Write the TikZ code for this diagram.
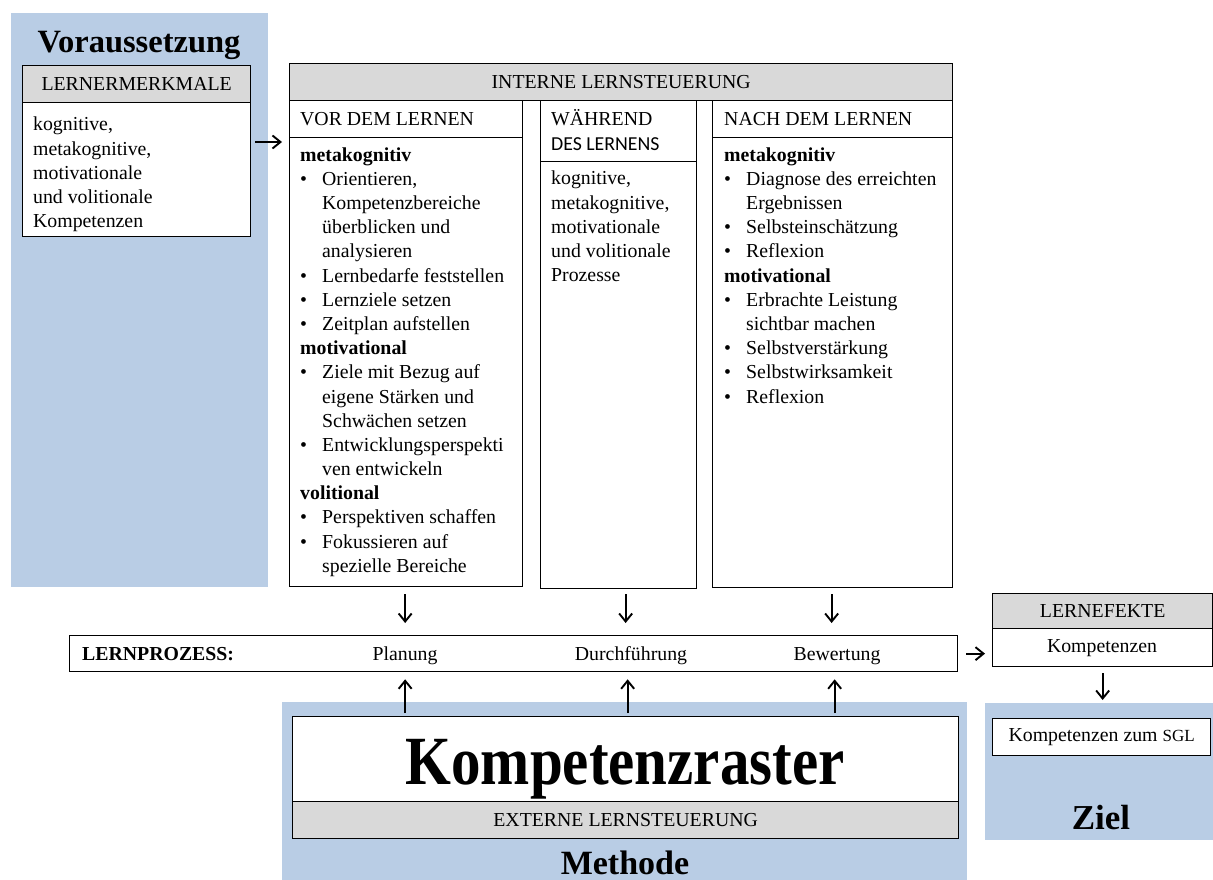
\documentclass[tikz,border=0pt]{standalone}
\usepackage{fontspec}
\usepackage{graphicx}
\setmainfont{Liberation Serif}
\newfontfamily\calibfont{Carlito}
\usetikzlibrary{arrows.meta,calc}
\definecolor{bgblue}{RGB}{185,205,229}
\definecolor{hdrgray}{RGB}{217,217,217}
\newcommand{\bul}{\makebox[22pt][l]{\textbullet}}
\newcommand{\ind}{\hspace*{22pt}}
\newcommand{\txt}[2]{\parbox[t]{#1}{\raggedright #2}}
\begin{document}
\begin{tikzpicture}[x=1pt,y=-1pt,
  box/.style={draw=black, line width=1.3pt, fill=white, inner sep=0pt, anchor=north west,
              font=\fontsize{19.8}{24.2}\selectfont},
  hdr/.style={box, fill=hdrgray},
  bg/.style={fill=bgblue, draw=none, inner sep=0pt, anchor=north west},
  body/.style={inner sep=0pt, anchor=base west, font=\fontsize{19.8}{24.2}\selectfont},
  lbl/.style={inner sep=0pt, font=\fontsize{19.8}{24.2}\selectfont},
  arr/.style={-{Straight Barb[length=8pt,width=13pt,line width=1.9pt]}, line width=1.9pt},
]
\useasboundingbox (0,0) rectangle (1213,880);

% blue backgrounds
\node[bg, minimum width=257pt, minimum height=574pt] (vbg) at (11,13) {};
\node[bg, minimum width=685pt, minimum height=178pt] (mbg) at (282,702) {};
\node[bg, minimum width=228pt, minimum height=137pt] (zbg) at (985,703) {};

% Voraussetzung
\node[lbl, anchor=base, font=\fontsize{32.5}{36}\selectfont\bfseries] (vtitle) at (139,53) {Voraussetzung};
\node[box, minimum width=228pt, minimum height=134pt] (lmb) at (22,102) {};
\node[hdr, minimum width=228pt, minimum height=37pt] (lmh) at (22,65) {LERNERMERKMALE};
\node[body] (lmt) at (33,131) {\txt{210pt}{kognitive,\\ metakognitive,\\ motivationale\\ und volitionale\\ Kompetenzen}};

% Interne Lernsteuerung
\node[hdr, minimum width=663pt, minimum height=37pt] (ih) at (289,63) {INTERNE LERNSTEUERUNG};

\node[box, minimum width=233pt, minimum height=486pt] (c1) at (289,100) {};
\node[box, minimum width=233pt, minimum height=37pt] (c1h) at (289,100) {};
\node[body] (c1ht) at (300,126) {VOR DEM LERNEN};
\node[body] (c1t) at (300,161) {\txt{222pt}{\textbf{metakognitiv}\\
\bul Orientieren,\\
\ind Kompetenzbereiche\\
\ind überblicken und\\
\ind analysieren\\
\bul Lernbedarfe feststellen\\
\bul Lernziele setzen\\
\bul Zeitplan aufstellen\\
\textbf{motivational}\\
\bul Ziele mit Bezug auf\\
\ind eigene Stärken und\\
\ind Schwächen setzen\\
\bul Entwicklungsperspekti\\
\ind ven entwickeln\\
\textbf{volitional}\\
\bul Perspektiven schaffen\\
\bul Fokussieren auf\\
\ind spezielle Bereiche}};

\node[box, minimum width=156pt, minimum height=488pt] (c2) at (540,100) {};
\node[box, minimum width=156pt, minimum height=61pt] (c2h) at (540,100) {};
\node[body] (c2ht) at (551,126) {\txt{140pt}{WÄHREND\\ {\calibfont DES LERNENS}}};
\node[body] (c2t) at (551,185) {\txt{140pt}{kognitive,\\ metakognitive,\\ motivationale\\ und volitionale\\ Prozesse}};

\node[box, minimum width=240pt, minimum height=487pt] (c3) at (712,100) {};
\node[box, minimum width=240pt, minimum height=37pt] (c3h) at (712,100) {};
\node[body] (c3ht) at (724,126) {NACH DEM LERNEN};
\node[body] (c3t) at (724,161) {\txt{226pt}{\textbf{metakognitiv}\\
\bul Diagnose des erreichten\\
\ind Ergebnissen\\
\bul Selbsteinschätzung\\
\bul Reflexion\\
\textbf{motivational}\\
\bul Erbrachte Leistung\\
\ind sichtbar machen\\
\bul Selbstverstärkung\\
\bul Selbstwirksamkeit\\
\bul Reflexion}};

% Lernprozess
\node[box, minimum width=888pt, minimum height=36pt] (proz) at (69,635) {};
\node[lbl, anchor=base west, font=\fontsize{19.8}{24.2}\selectfont\bfseries] (lp) at (82,660) {LERNPROZESS:};
\node[lbl, anchor=base] (plan) at (405,660) {Planung};
\node[lbl, anchor=base] (durch) at (631,660) {Durchführung};
\node[lbl, anchor=base] (bew) at (837,660) {Bewertung};

% Lerneffekte
\node[box, minimum width=220pt, minimum height=73pt] (leb) at (992,593) {};
\node[hdr, minimum width=220pt, minimum height=35pt] (leh) at (992,593) {LERNEFEKTE};
\node[lbl] (let) at (1102,648) {Kompetenzen};

% Ziel
\node[box, minimum width=218pt, minimum height=37pt] (sgl) at (992,718) {Kompetenzen zum {\fontsize{17}{20}\selectfont SGL}};
\node[lbl, anchor=base, font=\fontsize{35}{38}\selectfont\bfseries] (ziel) at (1101,829) {Ziel};

% Methode
\node[box, minimum width=666pt, minimum height=85pt] (kr) at (292,716) {};
\node[hdr, minimum width=666pt, minimum height=37pt] (ext) at (292,801) {EXTERNE LERNSTEUERUNG};
\node[lbl, anchor=base] (krt) at (625,784) {\scalebox{1}[1.17]{\fontsize{59}{60}\selectfont\bfseries Kompetenzraster}};
\node[lbl, anchor=base, font=\fontsize{34}{38}\selectfont\bfseries] (meth) at (625,874) {Methode};

% arrows
\draw[arr] ($(lmb.north east)+(4,40)$) -- ($(c1.north west)+(-7,42)$);
\draw[arr] ($(c1.south)+(-1,7)$) -- ($(proz.north -| c1.south)+(-1,-12)$);
\draw[arr] ($(c2.south)+(7,5)$) -- ($(proz.north -| c2.south)+(7,-12)$);
\draw[arr] ($(c3.south)+(-1,6)$) -- ($(proz.north -| c3.south)+(-1,-12)$);
\draw[arr] ($(kr.north -| c1.south)+(-1,-3)$) -- ($(proz.south -| c1.south)+(-1,7)$);
\draw[arr] ($(kr.north -| c2.south)+(9,-3)$) -- ($(proz.south -| c2.south)+(9,7)$);
\draw[arr] ($(kr.north -| c3.south)+(2,-3)$) -- ($(proz.south -| c3.south)+(2,7)$);
\draw[arr] ($(proz.east)+(8,0)$) -- ($(leb.west |- proz.east)+(-7,0)$);
\draw[arr] ($(leb.south)+(0,6)$) -- ($(zbg.north -| leb.south)+(0,-3)$);
\end{tikzpicture}
\end{document}
